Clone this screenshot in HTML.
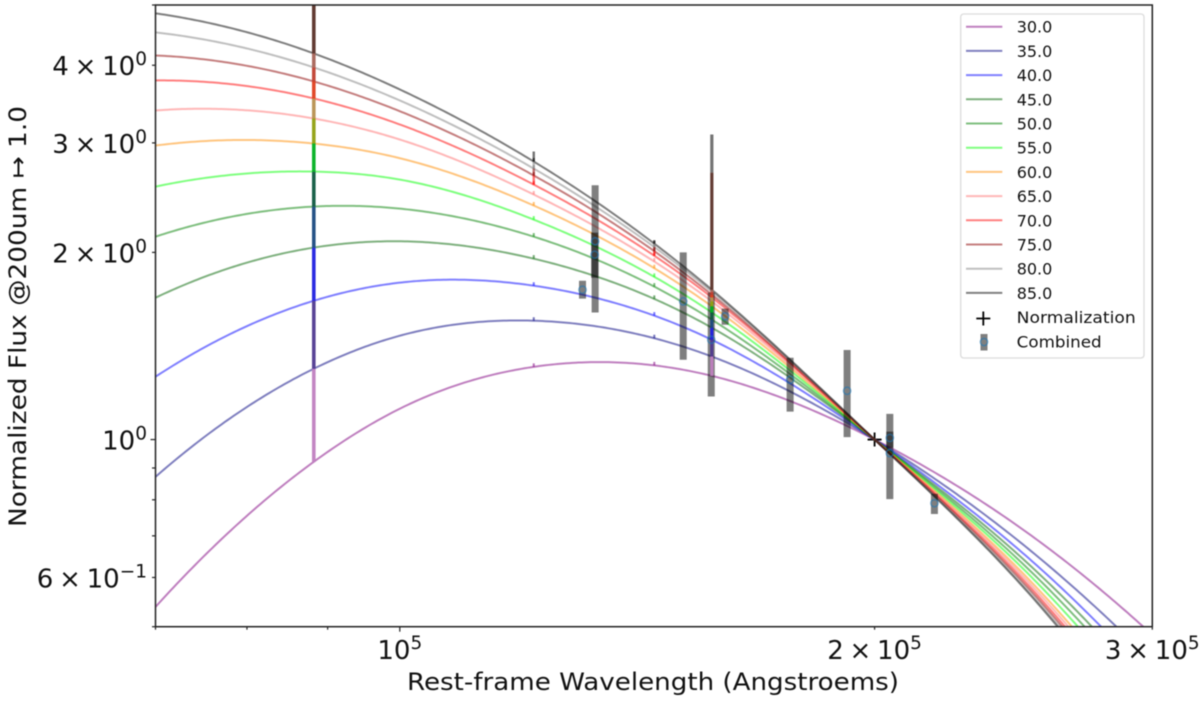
<!DOCTYPE html>
<html lang="en">
<head>
<meta charset="utf-8">
<title>Normalized flux versus rest-frame wavelength</title>
<style>
html,body{margin:0;padding:0;background:#fff;width:1200px;height:702px;overflow:hidden}
svg{display:block;filter:blur(0.55px)}
text{font-family:"DejaVu Sans","Liberation Sans",sans-serif;fill:#111}
</style>
</head>
<body>
<svg id="chart" xmlns="http://www.w3.org/2000/svg" width="1200" height="702" viewBox="0 0 1200 702">
  <defs><clipPath id="plot-clip"><rect x="155.5" y="5" width="996.8" height="621.7"></rect></clipPath></defs>
  <rect x="0" y="0" width="1200" height="702" fill="#ffffff"></rect>
  <g id="marks" clip-path="url(#plot-clip)"></g>
  <g id="axes"></g>
  <text x="653" y="690" font-size="24" text-anchor="middle" textLength="492" lengthAdjust="spacingAndGlyphs">Rest-frame Wavelength (Angstroems)</text>
  <text transform="translate(26,316.5) rotate(-90)" font-size="24" text-anchor="middle" textLength="421" lengthAdjust="spacingAndGlyphs">Normalized Flux @200um ↦ 1.0</text>
  <g id="legend"></g>
</svg>
<script>
const wavelengths = [70000, 88200, 100000, 121600, 157700, 200000, 250000, 300000];
const flux30 = [0.538, 0.921, 1.121, 1.309, 1.266, 1, 0.708, 0.485];
const flux35 = [0.871, 1.300, 1.469, 1.553, 1.360, 1, 0.669, 0.439];
const flux40 = [1.262, 1.672, 1.788, 1.768, 1.447, 1, 0.647, 0.409];
const flux45 = [1.691, 2.036, 2.084, 1.954, 1.513, 1, 0.633, 0.389];
const flux50 = [2.120, 2.370, 2.352, 2.120, 1.559, 1, 0.621, 0.373];
const flux55 = [2.552, 2.698, 2.619, 2.258, 1.601, 1, 0.610, 0.357];
const flux60 = [2.971, 2.993, 2.835, 2.379, 1.638, 1, 0.599, 0.343];
const flux65 = [3.383, 3.284, 3.038, 2.478, 1.668, 1, 0.592, 0.335];
const flux70 = [3.781, 3.537, 3.212, 2.571, 1.693, 1, 0.585, 0.328];
const flux75 = [4.148, 3.767, 3.374, 2.659, 1.710, 1, 0.579, 0.324];
const flux80 = [4.518, 3.968, 3.511, 2.728, 1.729, 1, 0.573, 0.320];
const flux85 = [4.848, 4.179, 3.657, 2.800, 1.742, 1, 0.569, 0.316];
const seriesValues = [flux30, flux35, flux40, flux45, flux50, flux55, flux60, flux65, flux70, flux75, flux80, flux85];
const seriesLabels = ["30.0", "35.0", "40.0", "45.0", "50.0", "55.0", "60.0", "65.0", "70.0", "75.0", "80.0", "85.0"];
const seriesColors = ["#800080", "#000080", "#0000ff", "#006400", "#008000", "#00ff00", "#ff8c00", "#ff7070", "#ff0000", "#8b0000", "#808080", "#000000"];

const bandColors = ["#c080c0", "#503a90", "#2020e0", "#1a4a80", "#0f5a40", "#00b020", "#90a010", "#b89050", "#e04020", "#c04030", "#a86458", "#5a3028"];
const thinBandColors = ["#ff0000", "#8b0000", "#808080", "#000000"];
const stackWavelengths = [88200, 157700, 121600, 145000];
const stackFirstSeries = [0, 0, 8, 8];
const stackTopFlux = [5.0, 2.688, 2.906, 2.089];
const tickWavelengths = [121600, 145000];
const upperWavelengths = [157700];
const upperLow = [2.688];
const upperHigh = [3.095];

const combinedWavelengths = [130570, 133000, 132900, 151250, 157570, 160800, 176800, 192140, 204500, 204500, 218260];
const combinedFlux = [1.742, 2.084, 1.983, 1.668, 1.447, 1.578, 1.248, 1.198, 0.951, 1.006, 0.790];
const combinedHigh = [1.801, 2.565, 2.152, 2.000, 1.723, 1.624, 1.354, 1.393, 1.100, 1.030, 0.818];
const combinedLow = [1.685, 1.601, 1.821, 1.344, 1.173, 1.530, 1.109, 1.009, 0.802, 0.970, 0.759];
const normalizationWavelength = [200000];
const normalizationFlux = [1.0];

const xDomain = [70000, 300000];
const yDomain = [0.5, 5.0];
const xMajorTicks = [100000];
const xMinorTicks = [70000, 80000, 90000, 200000, 300000];
const yMajorTicks = [1];
const yMinorTicks = [0.5, 0.6, 0.7, 0.8, 0.9, 2, 3, 4, 5];
const xTickValues = [100000, 200000, 300000];
const xTickMantissas = ["10", "2 × 10", "3 × 10"];
const xTickExponents = ["5", "5", "5"];
const yTickValues = [0.6, 1, 2, 3, 4];
const yTickMantissas = ["6 × 10", "10", "2 × 10", "3 × 10", "4 × 10"];
const yTickExponents = ["−1", "0", "0", "0", "0"];

const NS = "http://www.w3.org/2000/svg";
const plot = {left: 155.5, right: 1152.3, top: 5, bottom: 626.7};
function xPx(w) {
  return plot.left + (plot.right - plot.left) * Math.log10(w / xDomain[0]) / Math.log10(xDomain[1] / xDomain[0]);
}
function yPx(f) {
  return plot.bottom - (plot.bottom - plot.top) * Math.log10(f / yDomain[0]) / Math.log10(yDomain[1] / yDomain[0]);
}
function mk(parent, tag, props) {
  const el = document.createElementNS(NS, tag);
  for (const k in props) el.setAttribute(k, props[k]);
  parent.appendChild(el);
  return el;
}
/* Cubic spline through the read points, in the log-log pixel space of the axes. */
function makeSpline(xs, ys) {
  const n = xs.length;
  const h = [], d = [];
  for (let i = 0; i < n - 1; i++) {
    h.push(xs[i + 1] - xs[i]);
    d.push((ys[i + 1] - ys[i]) / h[i]);
  }
  const a = [], b = [], c = [], r = [];
  for (let i = 1; i < n - 1; i++) {
    a.push(h[i - 1]);
    b.push(2 * (h[i - 1] + h[i]));
    c.push(h[i]);
    r.push(6 * (d[i] - d[i - 1]));
  }
  const k = a.length;
  b[0] += a[0];
  b[k - 1] += c[k - 1];
  for (let i = 1; i < k; i++) {
    const w = a[i] / b[i - 1];
    b[i] -= w * c[i - 1];
    r[i] -= w * r[i - 1];
  }
  const inner = new Array(k);
  inner[k - 1] = r[k - 1] / b[k - 1];
  for (let i = k - 2; i >= 0; i--) inner[i] = (r[i] - c[i] * inner[i + 1]) / b[i];
  const M = [inner[0]].concat(inner, [inner[k - 1]]);
  return function (x) {
    let i = 0;
    while (i < n - 2 && x > xs[i + 1]) i++;
    const A = (xs[i + 1] - x) / h[i], B = (x - xs[i]) / h[i];
    return A * ys[i] + B * ys[i + 1] + ((A * A * A - A) * M[i] + (B * B * B - B) * M[i + 1]) * h[i] * h[i] / 6;
  };
}
const xKnots = wavelengths.map(xPx);
const curves = seriesValues.map(function (vals) { return makeSpline(xKnots, vals.map(yPx)); });

const marks = document.getElementById("marks");
const axes = document.getElementById("axes");
const legend = document.getElementById("legend");

normalizationWavelength.forEach(function (w, i) {
  const cx = xPx(w), cy = yPx(normalizationFlux[i]);
  const plus = mk(marks, "path", {d: "M" + (cx - 7) + " " + cy + "H" + (cx + 7) + "M" + cx + " " + (cy - 7) + "V" + (cy + 7), stroke: "#000", "stroke-width": 1.8, fill: "none"});
  
  
});

seriesValues.forEach(function (vals, s) {
  let d = "";
  for (let x = plot.left; x <= plot.right; x += 3) {
    const y = curves[s](x);
    d += (d ? "L" : "M") + x.toFixed(1) + " " + y.toFixed(2);
    if (y > plot.bottom + 4) break;
  }
  const line = mk(marks, "path", {d: d, fill: "none", stroke: seriesColors[s], "stroke-opacity": 0.5, "stroke-width": 2});
  
  
});

tickWavelengths.forEach(function (w) {
  seriesValues.forEach(function (vals, s) {
    const y = curves[s](xPx(w));
    const tick = mk(marks, "line", {x1: xPx(w), x2: xPx(w), y1: y, y2: y - 3.5, stroke: seriesColors[s], "stroke-opacity": 0.55, "stroke-width": 2});
    
    
  });
});

combinedWavelengths.forEach(function (w, i) {
  const bar = mk(marks, "line", {x1: xPx(w), x2: xPx(w), y1: yPx(combinedLow[i]), y2: yPx(combinedHigh[i]), stroke: "#000", "stroke-opacity": 0.5, "stroke-width": 7});
  
  
});

upperWavelengths.forEach(function (w, i) {
  const up = mk(marks, "line", {x1: xPx(w), x2: xPx(w), y1: yPx(upperLow[i]), y2: yPx(upperHigh[i]), stroke: "#000", "stroke-opacity": 0.55, "stroke-width": 3.2});
  
  
});

stackWavelengths.forEach(function (w, k) {
  const first = stackFirstSeries[k];
  const width = k === 0 ? 3.6 : (k === 1 ? 3.2 : 2.4);
  const op = k < 2 ? 0.95 : 0.55;
  for (let s = first; s < seriesValues.length; s++) {
    const lo = curves[s](xPx(w));
    const hi = s + 1 < seriesValues.length ? curves[s + 1](xPx(w)) : yPx(stackTopFlux[k]);
    const color = k < 2 ? bandColors[s] : thinBandColors[s - first];
    const seg = mk(marks, "line", {x1: xPx(w), x2: xPx(w), y1: lo, y2: hi, stroke: color, "stroke-opacity": op, "stroke-width": width});
    
    
  }
});

combinedWavelengths.forEach(function (w, i) {
  const dot = mk(marks, "circle", {cx: xPx(w), cy: yPx(combinedFlux[i]), r: 3.6, fill: "none", stroke: "#1f77b4", "stroke-opacity": 0.6, "stroke-width": 1.5});
  
  
});

const spines = mk(axes, "rect", {x: plot.left, y: plot.top, width: plot.right - plot.left, height: plot.bottom - plot.top, fill: "none", stroke: "#222", "stroke-width": 1.5});



function xTick(w, len) {
  const t = mk(axes, "line", {x1: xPx(w), x2: xPx(w), y1: plot.bottom, y2: plot.bottom + len, stroke: "#222", "stroke-width": 1.2});
  
  
}
function yTick(f, len) {
  const t = mk(axes, "line", {x1: plot.left - len, x2: plot.left, y1: yPx(f), y2: yPx(f), stroke: "#222", "stroke-width": 1.2});
  
  
}
xMajorTicks.forEach(function (w) { xTick(w, 5); });
xMinorTicks.forEach(function (w) { xTick(w, 3); });
yMajorTicks.forEach(function (f) { yTick(f, 5); });
yMinorTicks.forEach(function (f) { yTick(f, 3.5); });

function tickLabel(x, y, anchor, mant, exp) {
  const t = mk(axes, "text", {x: x, y: y, "font-size": 26, "text-anchor": anchor, "word-spacing": -2.5});
  const a = mk(t, "tspan", {});
  a.textContent = mant;
  const b = mk(t, "tspan", {dy: -10, "font-size": 18.5});
  b.textContent = exp;
  return t;
}
xTickValues.forEach(function (w, i) {
  const t = tickLabel(xPx(w), 659, "middle", xTickMantissas[i], xTickExponents[i]);
  
  
});
yTickValues.forEach(function (f, i) {
  const t = tickLabel(147, yPx(f) + 10, "end", yTickMantissas[i], yTickExponents[i]);
  
  
});

const frame = mk(legend, "rect", {x: 960.7, y: 14, width: 183.3, height: 344, rx: 3, ry: 3, fill: "#ffffff", "fill-opacity": 0.85, stroke: "#dcdcdc", "stroke-width": 1.3});


const legendRowStart = 26.7;
const legendRowStep = 24.2;
seriesLabels.forEach(function (lab, i) {
  const y = legendRowStart + i * legendRowStep;
  const h = mk(legend, "line", {x1: 966, x2: 1002.3, y1: y, y2: y, stroke: seriesColors[i], "stroke-opacity": 0.5, "stroke-width": 2});
  
  
  const t = mk(legend, "text", {x: 1016.7, y: y + 6, "font-size": 16});
  t.textContent = lab;
  
  
});
const legendPlus = mk(legend, "path", {d: "M976.3 318.5H990.3M983.3 311.5V325.5", stroke: "#000", "stroke-width": 1.8, fill: "none"});


const legendNormText = mk(legend, "text", {x: 1016.7, y: 323, "font-size": 16, textLength: 119, lengthAdjust: "spacingAndGlyphs"});
legendNormText.textContent = "Normalization";


const legendBar = mk(legend, "line", {x1: 984, x2: 984, y1: 334, y2: 350.5, stroke: "#000", "stroke-opacity": 0.5, "stroke-width": 7});


const legendDot = mk(legend, "circle", {cx: 984, cy: 342, r: 3.6, fill: "none", stroke: "#1f77b4", "stroke-opacity": 0.6, "stroke-width": 1.5});


const legendCombText = mk(legend, "text", {x: 1016.7, y: 347.5, "font-size": 16, textLength: 85, lengthAdjust: "spacingAndGlyphs"});
legendCombText.textContent = "Combined";


</script>
</body>
</html>
